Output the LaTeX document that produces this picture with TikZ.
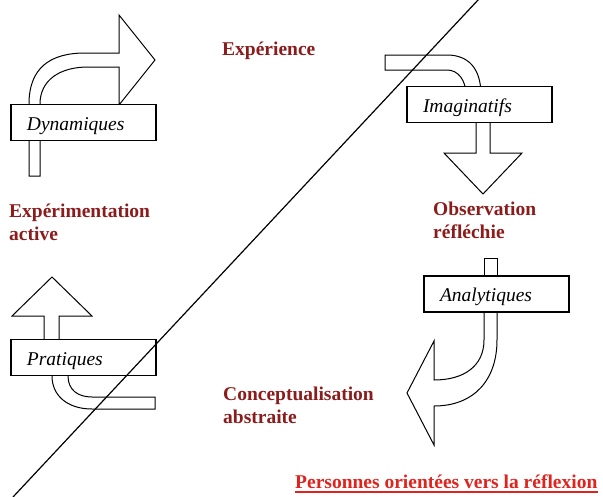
\documentclass[tikz,border=0pt]{standalone}
\usepackage{fontspec}
\setmainfont{Liberation Serif}
\definecolor{dred}{RGB}{140,28,28}
\definecolor{bred}{RGB}{225,35,30}
\begin{document}
\begin{tikzpicture}[x=1pt,y=-1pt,
  arrowshape/.style={draw=black, fill=white, line width=1pt, line join=miter},
  labelbox/.style={draw=black, fill=white, line width=1.6pt, minimum height=36pt,
    inner xsep=16pt, inner ysep=0pt, text width=113pt, align=left,
    text height=15pt, text depth=0pt, font=\fontsize{19.5}{23}\selectfont\itshape},
  stagetext/.style={text=dred, font=\fontsize{19.5}{23.5}\selectfont\bfseries,
    align=left, anchor=base west, inner sep=0pt}]
\useasboundingbox (0,0) rectangle (603,496);

% arrows
\draw[arrowshape] (29,176) -- (29,104) .. controls (29,68) and (50,53) .. (85,53) -- (119,53)
  -- (119,15) -- (155,60) -- (119,105) -- (119,67) -- (88,67)
  .. controls (60,67) and (40,80) .. (40,104) -- (40,176) -- cycle;
\draw[arrowshape] (385,70) -- (385,55) -- (447,55) .. controls (468,55) and (481,68) .. (481,95)
  -- (466,95) .. controls (466,80) and (458,70) .. (447,70) -- cycle;
\draw[arrowshape] (476,115) -- (476,153) -- (444,153) -- (483,194) -- (522,153) -- (490,153) -- (490,115) -- cycle;
\draw[arrowshape] (484,285) -- (484,258) -- (497,258) -- (497,285) -- cycle;
\draw[arrowshape] (484,305) -- (484,340) .. controls (484,366) and (464,380) .. (434,380)
  -- (434,341) -- (407,393) -- (434,445) -- (434,406)
  .. controls (474,406) and (497,380) .. (497,340) -- (497,305) -- cycle;
\draw[arrowshape] (44,345) -- (44,316) -- (12,316) -- (52,277) -- (92,316) -- (59,316) -- (59,345) -- cycle;
\draw[arrowshape] (52,370) -- (52,376) .. controls (52,396) and (68,409) .. (92,409) -- (155,409)
  -- (155,397) -- (92,397) .. controls (78,397) and (68,390) .. (68,376) -- (68,370) -- cycle;

% boxes
\node[labelbox] (dyn) at (83.5,122.5) {Dynamiques};
\node[labelbox] (ima) at (479.5,104.5) {Imaginatifs};
\node[labelbox] (ana) at (496.5,294) {Analytiques};
\node[labelbox] (pra) at (83.5,357.5) {Pratiques};

% diagonal
\coordinate (d1) at (13,497);
\coordinate (d2) at (478.5,-0.5);
\draw[line width=1.2pt] (d1) -- (d2);

% stage labels
\node[stagetext] (exp) at (222,55) {Expérience};
\node[stagetext] (act) at (9,240.5) {Expérimentation\\active};
\node[stagetext] (obs) at (433,238.5) {Observation\\réfléchie};
\node[stagetext] (con) at (223,423.5) {Conceptualisation\\abstraite};
\node[stagetext, text=bred] (pers) at (295,488) {Personnes orientées vers la réflexion};
\draw[bred, line width=1.5pt] ([yshift=-4pt]pers.base west) -- ([yshift=-4pt]pers.base east);
\end{tikzpicture}
\end{document}
